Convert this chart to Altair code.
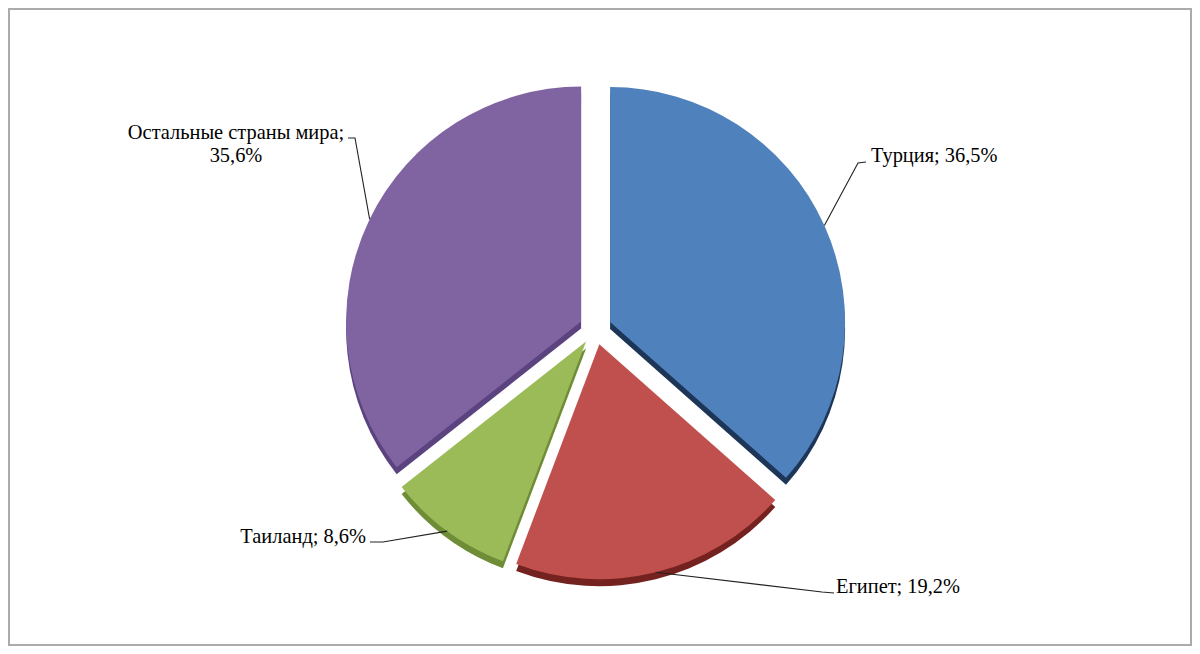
import math
import altair as alt
import pandas as pd

# ---- data -------------------------------------------------------------
countries = ["Турция", "Египет", "Таиланд", "Остальные страны мира"]
shares = [36.5, 19.2, 8.6, 35.6]
label_texts = ["Турция; 36,5%", "Египет; 19,2%", "Таиланд; 8,6%",
               "Остальные страны мира;\n35,6%"]

# ---- style / layout ---------------------------------------------------
colors = ["#4F81BD", "#C0504D", "#9BBB59", "#8064A2"]
side_colors = ["#1D3658", "#74221F", "#6F8C36", "#5A437E"]
W, H, PAD = 1182, 636, 1
R = 235                      # pie radius, px
CX, CY = 586.5, 319.6        # pie centre inside the plot area, px
EXPLODE = 16 / R             # slice explosion, pie units
DEPTH = 7 / R                # depth of the 3-D side, pie units
FONT = "Liberation Serif"
FONT_SIZE = 20.4

# label layout (px relative to the pie centre, y up): leader elbow, leader end, text anchor
label_elbow = [(262.5, 165.6), (226.5, -263.4), (-212.5, -213.4), (-240.5, 190.6)]
label_end = [(270.5, 166.6), (238.5, -264.4), (-225.5, -213.4), (-247.5, 190.6)]
label_anchor = [(275.5, 166.6), (240.5, -264.4), (-229.5, -214.4), (-359.5, 189.6)]
label_align = ["left", "left", "right", "center"]

# ---- geometry derived from the values --------------------------------
total = sum(shares)
rows, lead = [], []
cum = 0.0
for i, (c, v) in enumerate(zip(countries, shares)):
    t0 = cum / total * 2 * math.pi
    cum += v
    t1 = cum / total * 2 * math.pi
    mid = (t0 + t1) / 2
    ox, oy = EXPLODE * math.sin(mid), EXPLODE * math.cos(mid)
    rows.append(dict(country=c, share=v, t0=t0, t1=t1, ox=ox, oy=oy,
                     oy_side=oy - DEPTH, label=label_texts[i],
                     lx=label_anchor[i][0] / R, ly=label_anchor[i][1] / R,
                     align=label_align[i]))
    pts = [(ox + math.sin(mid), oy + math.cos(mid)),
           (label_elbow[i][0] / R, label_elbow[i][1] / R),
           (label_end[i][0] / R, label_end[i][1] / R)]
    for k, (px, py) in enumerate(pts):
        lead.append(dict(country=c, k=k, x=px, y=py))

slices = pd.DataFrame(rows)
leaders = pd.DataFrame(lead)

xs = alt.Scale(domain=[-CX / R, (W - CX) / R], nice=False, zero=False)
ys = alt.Scale(domain=[-(H - CY) / R, CY / R], nice=False, zero=False)

base = alt.Chart(slices)

side = base.mark_arc(radius=R, stroke=None).encode(
    x=alt.X("ox:Q", scale=xs, axis=None),
    y=alt.Y("oy_side:Q", scale=ys, axis=None),
    theta=alt.Theta("t0:Q", scale=None, stack=None),
    theta2=alt.Theta2("t1:Q"),
    color=alt.Color("country:N", scale=alt.Scale(domain=countries, range=side_colors), legend=None),
)

top = base.mark_arc(radius=R, stroke=None).encode(
    x=alt.X("ox:Q", scale=xs, axis=None),
    y=alt.Y("oy:Q", scale=ys, axis=None),
    theta=alt.Theta("t0:Q", scale=None, stack=None),
    theta2=alt.Theta2("t1:Q"),
    color=alt.Color("country:N", scale=alt.Scale(domain=countries, range=colors), legend=None),
)

lines = alt.Chart(leaders).mark_line(color="#222222", strokeWidth=1.1).encode(
    x=alt.X("x:Q", scale=xs, axis=None),
    y=alt.Y("y:Q", scale=ys, axis=None),
    detail="country:N",
    order="k:Q",
)

def text_layer(align):
    return base.transform_filter(alt.datum.align == align).mark_text(
        font=FONT, fontSize=FONT_SIZE, color="#000000", align=align,
        baseline="alphabetic", lineBreak="\n", lineHeight=23,
    ).encode(
        x=alt.X("lx:Q", scale=xs, axis=None),
        y=alt.Y("ly:Q", scale=ys, axis=None),
        text="label:N",
    )

chart = alt.layer(
    side, top, lines, text_layer("left"), text_layer("right"), text_layer("center")
).resolve_scale(color="independent").properties(
    width=W, height=H, padding=PAD, autosize=alt.AutoSizeParams(type="none"),
    background="#FFFFFF",
).configure_view(stroke="#ABABAB", strokeWidth=2)

chart.save("out.html", embed_options={"renderer": "svg", "actions": False})
